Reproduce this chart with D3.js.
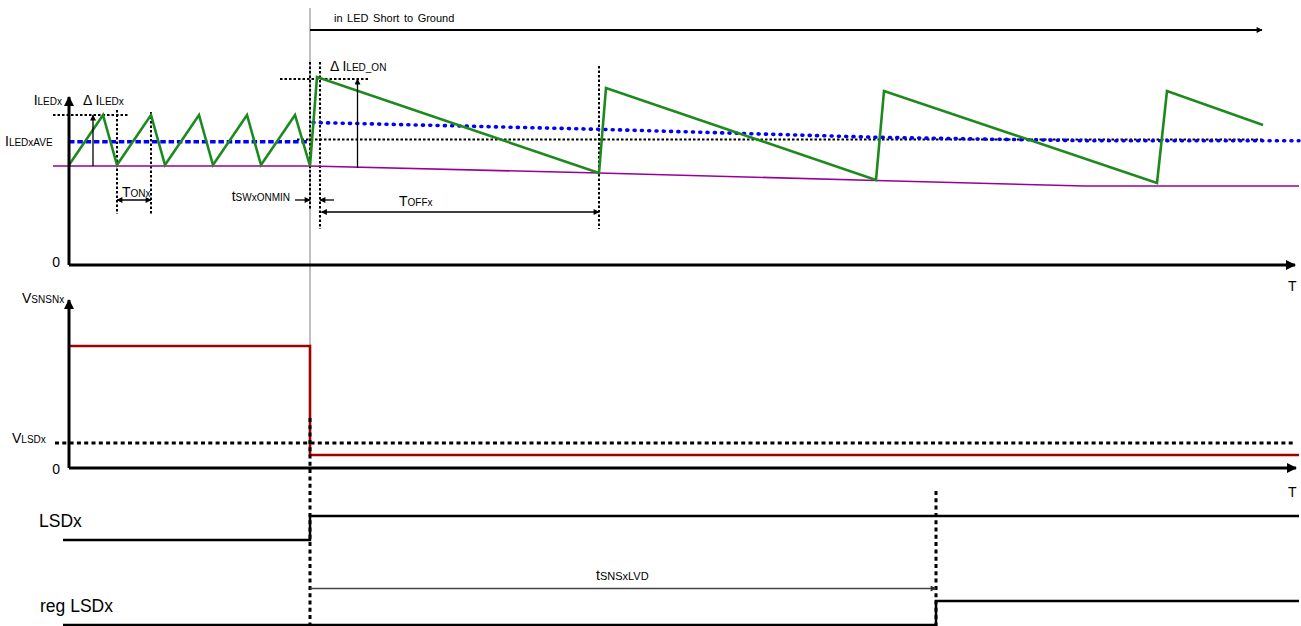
<!DOCTYPE html>
<html><head><meta charset="utf-8">
<script src="https://cdn.jsdelivr.net/npm/d3@7"></script>
<style>
html,body{margin:0;padding:0;background:#fff;}
svg{display:block;font-family:"Liberation Sans",Arial,sans-serif;}
</style></head><body>
<svg id="chart" width="1301" height="626"></svg>
<script>
// ---------------- data (time in arbitrary units, 0 = axis origin) ----------------
const ledTime    = [0, 3.4, 4.8, 8.2, 9.6, 13.0, 14.4, 17.8, 19.2, 22.6, 24.1, 24.8, 53.0, 53.7, 80.7, 81.5, 108.8, 109.8, 119.4];
const ledCurrent = [100, 150, 100, 150, 100, 150, 100, 150, 100, 150, 99, 188, 92, 177, 85, 174, 82, 174, 140];
const aveTimeBefore    = [0, 24.0];
const aveCurrentBefore = [123.3, 123.3];
const aveTimeAfter     = [24.4, 53.0, 80.7, 101.6, 123.0];
const aveCurrentAfter  = [142.5, 135.7, 127.7, 124.3, 124.3];
const valleyTime    = [-1.6, 24.1, 53.0, 80.7, 101.6, 123.0];
const valleyCurrent = [99, 99, 92, 84.5, 79, 79];
const targetAveCurrent = 125.5;
const peakCurrent = 150;
const peakCurrentShort = 188;
const sensTime    = [0, 24.1, 24.1, 123.0];
const sensVoltage = [122, 122, 13, 13];
const vLsdThreshold = 25;
const lsdTime    = [-0.6, 24.1, 24.1, 123.0];
const lsdLevel   = [0, 0, 1, 1];
const regLsdTime  = [-0.6, 86.7, 86.7, 123.0];
const regLsdLevel = [0, 0, 1, 1];
const tShort = 24.1, tSwOnMinEnd = 25.1, tOffEnd = 53.0, tLvd = 86.7;
const tOnStart = 4.8, tOnEnd = 8.2;
const axisTicks = [0];

// ---------------- scales ----------------
const x    = d3.scaleLinear().domain([0, 123]).range([69, 1299]);
const yI   = d3.scaleLinear().domain([0, 200]).range([265, 65]);
const yV   = d3.scaleLinear().domain([0, 170]).range([468, 298]);
const yLsd = d3.scaleLinear().domain([0, 1]).range([540, 516]);
const yReg = d3.scaleLinear().domain([0, 1]).range([625, 601]);

const svg = d3.select("#chart");
const defs = svg.append("defs");
function marker(id, w, h, color) {
  defs.append("marker").attr("id", id).attr("viewBox", "0 0 10 10")
    .attr("refX", 9).attr("refY", 5).attr("markerWidth", w).attr("markerHeight", h)
    .attr("markerUnits", "userSpaceOnUse").attr("orient", "auto-start-reverse")
    .append("path").attr("d", "M0,0L10,5L0,10Z").attr("fill", color);
}
marker("axArrow", 13, 10, "#000");
marker("smArrow", 7, 6, "#000");
marker("grArrow", 7, 6, "#333");

const line = (xs, ys, sx, sy) => d3.line().x(d => sx(d[0])).y(d => sy(d[1]))(d3.zip(xs, ys));
function seg(x1, y1, x2, y2) { return d3.line()([[x1, y1], [x2, y2]]); }

function path(d, stroke, width, dash, extra) {
  const p = svg.append("path").attr("d", d).attr("fill", "none").attr("stroke", stroke)
    .attr("stroke-width", width);
  if (dash) p.attr("stroke-dasharray", dash);
  if (extra) extra(p);
  return p;
}
function label(px, py, parts, anchor) {
  const t = svg.append("text").attr("x", px).attr("y", py).attr("fill", "#000")
    .attr("text-anchor", anchor || "start");
  parts.forEach(p => t.append("tspan").attr("font-size", p[1] + "px").text(p[0]));
  return t;
}

const DOT = "2.5,2";
const DASH = "4,3.3";

// ---------------- top panel: LED current ----------------
// gray event marker
path(seg(x(tShort), 8, x(tShort), yV(122)), "#aaa", 1.5);

// reference dotted lines
path(seg(53, yI(peakCurrent), 128, yI(peakCurrent)), "#000", 2, DOT);
path(seg(x(tOnStart), 110, x(tOnStart), 214), "#000", 2, DOT);
path(seg(x(tOnEnd), 112, x(tOnEnd), 214), "#000", 2, DOT);
path(seg(x(tShort), 62, x(tShort), 210), "#000", 2, DOT);
path(seg(x(tSwOnMinEnd), 62, x(tSwOnMinEnd), 229), "#000", 2, DOT);
path(seg(x(tOffEnd), 66, x(tOffEnd), 229), "#000", 2, DOT);
path(seg(280, yI(peakCurrentShort) + 2, 370, yI(peakCurrentShort) + 2), "#000", 2, DOT);
path(seg(297, yI(targetAveCurrent), 1263, yI(targetAveCurrent)), "#000", 2, DOT);

// valley (purple)
path(line(valleyTime, valleyCurrent, x, yI), "#990099", 1.6);
// average (blue)
path(line(aveTimeBefore, aveCurrentBefore, x, yI), "#0000ff", 3.5, "5.5,2.8");
path(line(aveTimeAfter, aveCurrentAfter, x, yI), "#0000ff", 3.6, "1,6.3", p => p.attr("stroke-linecap", "round"));
// LED current (green)
path(line(ledTime, ledCurrent, x, yI), "#1e8a1e", 2.6, null, p => p.attr("stroke-linejoin", "miter"));

// axes
path(seg(x(0), yI(0), x(0), yI(168)), "#000", 3, null, p => p.attr("marker-end", "url(#axArrow)"));
path(seg(x(0), yI(0), x(122.6), yI(0)), "#000", 3, null, p => p.attr("marker-end", "url(#axArrow)"));
const yIAxis = d3.scaleLinear().domain([0, 168]).range([yI(0), yI(168)]);
svg.append("g").attr("transform", `translate(${x(0)},-3)`)
  .call(d3.axisLeft(yIAxis).tickValues(axisTicks).tickSize(0).tickPadding(9).tickFormat(d3.format("d")))
  .call(g => g.select(".domain").remove())
  .call(g => g.selectAll("text").attr("font-size", "14px").attr("font-family", "Liberation Sans, Arial, sans-serif").attr("fill", "#000"));

// annotation arrows
path(seg(93, yI(valleyCurrent[1]), 93, yI(peakCurrent)), "#000", 1.3, null, p => p.attr("marker-end", "url(#smArrow)"));
path(seg(x(tOnStart), 200, x(tOnEnd), 200), "#000", 1.3, null, p => p.attr("marker-end", "url(#smArrow)").attr("marker-start", "url(#smArrow)"));
path(seg(295, 200, x(tShort), 200), "#000", 1.3, null, p => p.attr("marker-end", "url(#smArrow)"));
path(seg(334, 200, x(tSwOnMinEnd), 200), "#000", 1.3, null, p => p.attr("marker-end", "url(#smArrow)"));
path(seg(x(tSwOnMinEnd) + 1.5, 212, x(tOffEnd), 212), "#000", 1.3, null, p => p.attr("marker-end", "url(#smArrow)").attr("marker-start", "url(#smArrow)"));
path(seg(357.5, 168, 357.5, yI(peakCurrentShort) + 2), "#000", 1.3, null, p => p.attr("marker-end", "url(#smArrow)"));
path(seg(x(tShort), 30, 1262, 30), "#000", 2, null, p => p.attr("marker-end", "url(#smArrow)"));

// labels
label(62, 105, [["I", 14], ["LEDx", 10]], "end");
label(83, 105, [["\u0394 I", 14], ["LEDx", 10]]);
label(5, 146, [["I", 14], ["LEDxAVE", 10]]);
label(122, 197, [["T", 14], ["ONx", 10]]);
label(290, 201, [["t", 14], ["SWxONMIN", 10]], "end");
label(399, 206, [["T", 14], ["OFFx", 10]]);
label(330, 71, [["\u0394 I", 14], ["LED_ON", 10]]);
label(334, 22, [["in LED Short to Ground", 11]]).attr("word-spacing", "1.5px");
label(1288, 291, [["T", 14]]);

// ---------------- middle panel: sense voltage ----------------
path(seg(55, yV(vLsdThreshold), 1295, yV(vLsdThreshold)), "#000", 3, DASH);
path(line(sensTime, sensVoltage, x, yV), "#a00000", 2.6, null, p => p.attr("stroke-linejoin", "miter"));
path(seg(x(0), yV(0), x(0), yV(168)), "#000", 3, null, p => p.attr("marker-end", "url(#axArrow)"));
path(seg(x(0), yV(0), x(122.7), yV(0)), "#000", 3, null, p => p.attr("marker-end", "url(#axArrow)"));
const yVAxis = d3.scaleLinear().domain([0, 168]).range([yV(0), yV(168)]);
svg.append("g").attr("transform", `translate(${x(0)},1)`)
  .call(d3.axisLeft(yVAxis).tickValues(axisTicks).tickSize(0).tickPadding(9).tickFormat(d3.format("d")))
  .call(g => g.select(".domain").remove())
  .call(g => g.selectAll("text").attr("font-size", "14px").attr("font-family", "Liberation Sans, Arial, sans-serif").attr("fill", "#000"));
label(22, 303, [["V", 14], ["SNSNx", 10]]);
label(12, 443, [["V", 14], ["LSDx", 10]]);
label(1288, 497, [["T", 14]]);

// ---------------- bottom: digital signals ----------------
path(seg(x(tShort), 418, x(tShort), 626), "#000", 3, DASH);
path(seg(x(tLvd), 491, x(tLvd), 626), "#000", 3, DASH);
path(line(lsdTime, lsdLevel, x, yLsd), "#000", 2.5);
path(line(regLsdTime, regLsdLevel, x, yReg), "#000", 2.5);
path(seg(x(tShort), 588.5, x(tLvd), 588.5), "#444", 1.5, null, p => p.attr("marker-end", "url(#grArrow)"));
label(39, 527, [["LSDx", 17.5]]);
label(40, 612, [["reg LSDx", 17.5]]);
label(596, 580, [["t", 14], ["SNSxLVD", 11]]);
</script>
</body></html>
